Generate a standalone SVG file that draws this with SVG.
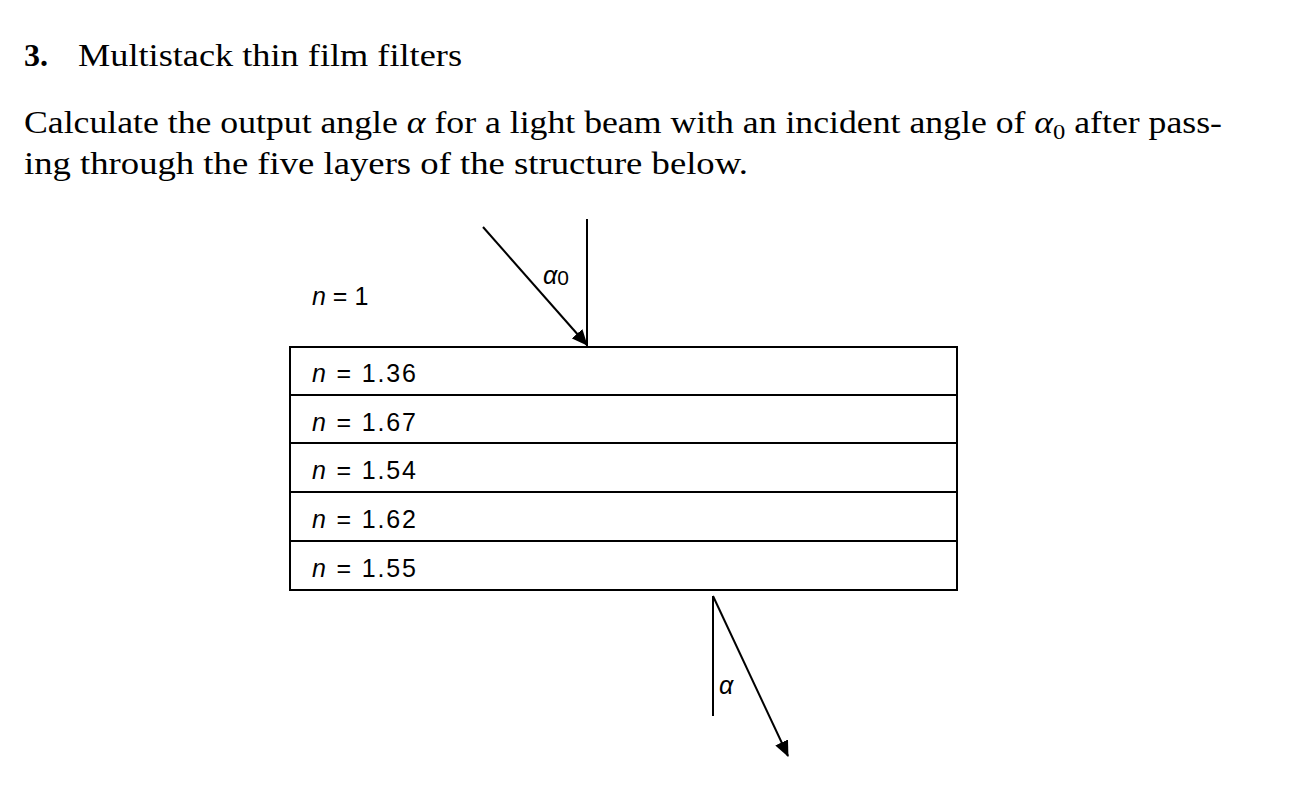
<svg xmlns="http://www.w3.org/2000/svg" width="1304" height="808" viewBox="0 0 1304 808">
<style>
.t{font-family:"Liberation Serif",serif;font-size:32px;fill:#000}
.s{font-family:"Liberation Sans",sans-serif;font-size:25px;fill:#000}
.ln{stroke:#000;stroke-width:2;fill:none}
</style>
<defs>
<marker id="ah2" markerWidth="16" markerHeight="14" refX="15" refY="7" orient="auto" markerUnits="userSpaceOnUse" viewBox="0 0 16 14"><path d="M0,0 L16,7 L0,14 z" fill="#000"/></marker></defs>
<rect width="1304" height="808" fill="#fff"/>
<text class="t" x="24" y="66" font-family="Liberation Sans,sans-serif" font-weight="bold" font-size="29">3.</text>
<text class="t" x="78" y="66" textLength="384" lengthAdjust="spacingAndGlyphs">Multistack thin film filters</text>
<text class="t" x="24" y="133" textLength="1198" lengthAdjust="spacingAndGlyphs">Calculate the output angle <tspan font-style="italic">α</tspan> for a light beam with an incident angle of <tspan font-style="italic">α</tspan><tspan font-size="22" dy="6">0</tspan><tspan dy="-6"> after pass-</tspan></text>
<text class="t" x="24" y="174" textLength="724" lengthAdjust="spacingAndGlyphs">ing through the five layers of the structure below.</text>
<g id="layers">
<rect class="ln" x="290" y="347" width="667" height="243"/>
<line class="ln" x1="290" y1="395" x2="957" y2="395"/>
<line class="ln" x1="290" y1="443" x2="957" y2="443"/>
<line class="ln" x1="290" y1="492" x2="957" y2="492"/>
<line class="ln" x1="290" y1="541" x2="957" y2="541"/>
</g>
<g id="labels">
<text class="s" x="312" y="305"><tspan font-style="italic">n</tspan> = 1</text>
<text class="s" x="312" y="382" textLength="104"><tspan font-style="italic">n</tspan> = 1.36</text>
<text class="s" x="312" y="431" textLength="104"><tspan font-style="italic">n</tspan> = 1.67</text>
<text class="s" x="312" y="479" textLength="104"><tspan font-style="italic">n</tspan> = 1.54</text>
<text class="s" x="312" y="528" textLength="104"><tspan font-style="italic">n</tspan> = 1.62</text>
<text class="s" x="312" y="577" textLength="104"><tspan font-style="italic">n</tspan> = 1.55</text>
<text class="s" x="543" y="284" font-size="30" font-style="italic">α<tspan font-style="normal" font-size="21" dy="1">0</tspan></text>
<text class="s" x="719" y="694" font-size="30" font-style="italic">α</text>
</g>
<g id="connectors">
<line class="ln" x1="587" y1="219" x2="587" y2="346"/>
<line class="ln" x1="483" y1="227" x2="587" y2="345" marker-end="url(#ah2)"/>
<line class="ln" x1="713" y1="596" x2="713" y2="716"/>
<line class="ln" x1="713" y1="596" x2="788" y2="756" marker-end="url(#ah2)"/>
</g>
</svg>
